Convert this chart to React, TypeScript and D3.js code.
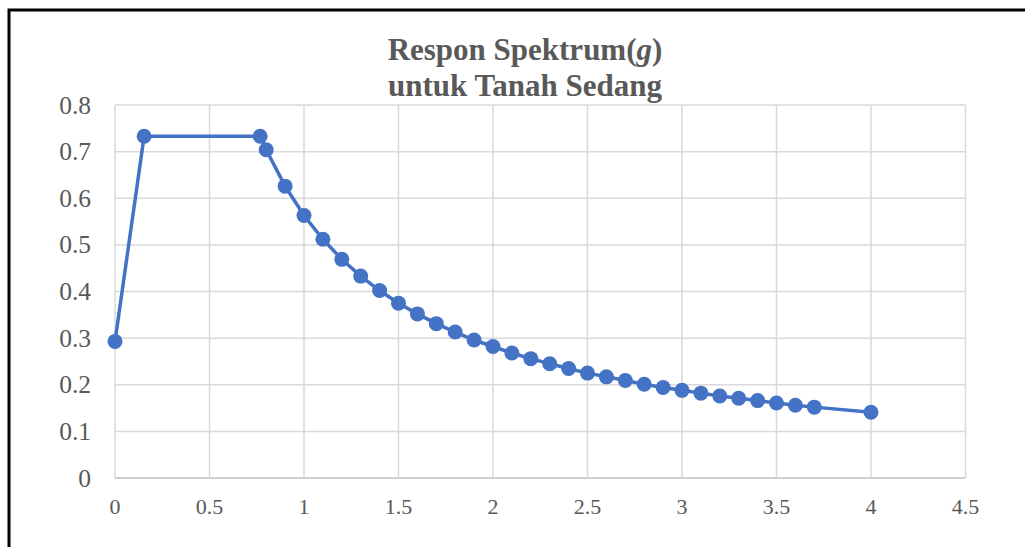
import React from "react";
import * as d3 from "d3";

// periode T (detik) dan Sa (g)
const periods = [
  0, 0.154, 0.768, 0.8, 0.9, 1.0, 1.1, 1.2, 1.3, 1.4, 1.5, 1.6, 1.7, 1.8, 1.9,
  2.0, 2.1, 2.2, 2.3, 2.4, 2.5, 2.6, 2.7, 2.8, 2.9, 3.0, 3.1, 3.2, 3.3, 3.4,
  3.5, 3.6, 3.7, 4.0,
];
const saValues = [
  0.293, 0.733, 0.733, 0.704, 0.626, 0.563, 0.512, 0.469, 0.433, 0.402, 0.375,
  0.352, 0.331, 0.313, 0.296, 0.282, 0.268, 0.256, 0.245, 0.235, 0.225, 0.217,
  0.209, 0.201, 0.194, 0.188, 0.182, 0.176, 0.171, 0.166, 0.161, 0.156, 0.152,
  0.141,
];
const xTicks = [0, 0.5, 1, 1.5, 2, 2.5, 3, 3.5, 4, 4.5];
const yTicks = [0, 0.1, 0.2, 0.3, 0.4, 0.5, 0.6, 0.7, 0.8];
const titleLine1 = "Respon Spektrum(";
const titleItalic = "g";
const titleLine2 = "untuk Tanah Sedang";

const W = 1025;
const H = 547;
const blue = "#4472C4";
const grid = "#d9d9d9";
const textCol = "#595959";
const serif = "'Liberation Serif', 'Times New Roman', serif";

const App = () => {
  const x = d3.scaleLinear().domain([0, 4.5]).range([115, 965.5]);
  const y = d3.scaleLinear().domain([0, 0.8]).range([478, 105]);

  const data = periods.map((t, i) => ({ t, sa: saValues[i] }));
  const line = d3
    .line<{ t: number; sa: number }>()
    .x((d) => x(d.t))
    .y((d) => y(d.sa));

  return (
    <svg
      width={W}
      height={H}
      style={{ position: "absolute", left: 0, top: 0, display: "block" }}
    >
      <rect x={0} y={0} width={W} height={H} fill="#fff" />
      {/* chart border */}
      <path
        d={`M9,${H + 5} L9,10 L${W + 5},10`}
        fill="none"
        stroke="#000"
        strokeWidth={3}
      />

      {/* gridlines */}
      {yTicks.map((v) => (
        <line
          key={"gy" + v}
          x1={x(0)}
          x2={x(4.5)}
          y1={y(v)}
          y2={y(v)}
          stroke={v === 0 ? "#bfbfbf" : grid}
          strokeWidth={1.5}
        />
      ))}
      {xTicks.map((v) => (
        <line
          key={"gx" + v}
          x1={x(v)}
          x2={x(v)}
          y1={y(0)}
          y2={y(0.8)}
          stroke={grid}
          strokeWidth={1.5}
        />
      ))}

      {/* tick labels */}
      {yTicks.map((v) => (
        <text
          key={"ly" + v}
          x={91}
          y={y(v) + 8.5}
          textAnchor="end"
          fontFamily={serif}
          fontSize={25.5}
          fill={textCol}
        >
          {String(v)}
        </text>
      ))}
      {xTicks.map((v) => (
        <text
          key={"lx" + v}
          x={x(v)}
          y={514}
          textAnchor="middle"
          fontFamily={serif}
          fontSize={22}
          fill={textCol}
        >
          {String(v)}
        </text>
      ))}

      {/* series */}
      <path d={line(data) || ""} fill="none" stroke={blue} strokeWidth={3.5} />
      {data.map((d, i) => (
        <circle key={i} cx={x(d.t)} cy={y(d.sa)} r={7.5} fill={blue} />
      ))}

      {/* title */}
      <text
        x={525}
        y={60}
        textAnchor="middle"
        fontFamily={serif}
        fontSize={31}
        fontWeight="bold"
        fill={textCol}
      >
        {titleLine1}
        <tspan fontStyle="italic">{titleItalic}</tspan>)
      </text>
      <text
        x={525}
        y={96}
        textAnchor="middle"
        fontFamily={serif}
        fontSize={31}
        fontWeight="bold"
        fill={textCol}
      >
        {titleLine2}
      </text>
    </svg>
  );
};

export default App;
